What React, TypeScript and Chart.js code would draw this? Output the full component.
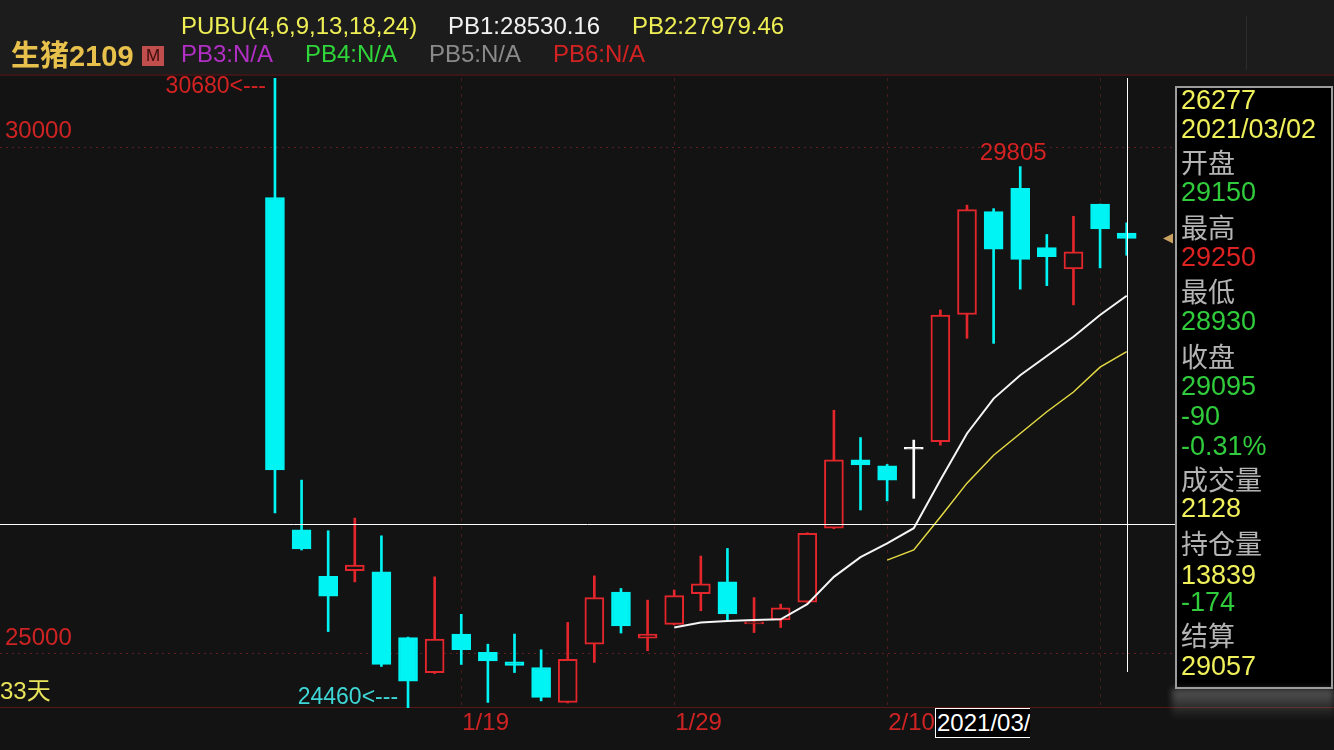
import React, { useEffect, useRef } from 'react';
import { Chart, registerables } from 'chart.js';

Chart.register(...registerables);

// ---- data ----
const dates = ['1/8', '1/11', '1/12', '1/13', '1/14', '1/15', '1/18', '1/19', '1/20', '1/21', '1/22', '1/25', '1/26', '1/27', '1/28', '1/29', '2/1', '2/2', '2/3', '2/4', '2/5', '2/8', '2/9', '2/10', '2/18', '2/19', '2/22', '2/23', '2/24', '2/25', '2/26', '3/1', '3/2'];
const opens = [29500, 26220, 25760, 25815, 25805, 25155, 24810, 25190, 25010, 24915, 24860, 24515, 25090, 25605, 25150, 25285, 25590, 25705, 25290, 25330, 25505, 26235, 26910, 26850, 27015, 27090, 28345, 29360, 29590, 29005, 28795, 29435, 29150];
const highs = [30680, 26710, 26210, 26335, 26160, 25160, 25755, 25385, 25090, 25190, 25035, 25305, 25765, 25640, 25525, 25625, 25960, 26035, 25550, 25485, 26190, 27400, 27130, 26865, 27105, 28390, 29425, 29390, 29805, 29135, 29315, 29435, 29250];
const lows = [26385, 26020, 25215, 25705, 24870, 24460, 24800, 24890, 24515, 24810, 24530, 24510, 24910, 25200, 25025, 25280, 25420, 25330, 25205, 25255, 25500, 26230, 26415, 26505, 26530, 27055, 28110, 28060, 28595, 28630, 28440, 28805, 28930];
const closes = [26810, 26030, 25565, 25870, 24890, 24725, 25140, 25035, 24925, 24880, 24565, 24940, 25550, 25270, 25190, 25570, 25685, 25390, 25310, 25450, 26185, 26910, 26860, 26710, 27015, 28340, 29380, 28990, 28890, 28915, 28965, 29190, 29095];

const pb1Start = 15; // PUBU(4) line starts at the 16th bar
const pb1 = [25255, 25305, 25320, 25330, 25335, 25485, 25755, 25950, 26085, 26235, 26710, 27170, 27515, 27745, 27935, 28125, 28340, 28530.16];
const pb2Start = 23; // PUBU(6) line starts at the 24th bar
const pb2 = [25920, 26020, 26345, 26680, 26955, 27170, 27385, 27580, 27825, 27979.46];

const yGridValues = [30000, 25000];
const yTickLabels = ['30000', '25000'];
const gridDates = ['1/19', '1/29', '2/10', '3/1'];
const axisDates = ['1/19', '1/29', '2/10'];
const crossValue = 26277;
const crossDate = '2021/03/02';
const maxMark = 30680;
const minMark = 24460;
const localHigh = 29805;

const headerRow1 = [
  { text: 'PUBU(4,6,9,13,18,24)', color: '#eeee55', left: 181 },
  { text: 'PB1:28530.16', color: '#f2f2f2', left: 448 },
  { text: 'PB2:27979.46', color: '#eeee55', left: 632 },
];
const headerRow2 = [
  { text: 'PB3:N/A', color: '#b12fc4', left: 181 },
  { text: 'PB4:N/A', color: '#2fd63a', left: 305 },
  { text: 'PB5:N/A', color: '#8a8a8a', left: 429 },
  { text: 'PB6:N/A', color: '#d42222', left: 553 },
];

const YEL = '#f0f05a';
const GRY = '#b4b4b4';
const GRN = '#30cc3c';
const RDT = '#dd2222';
const panelRows = [
  { text: '26277', color: YEL, y: 100 },
  { text: '2021/03/02', color: YEL, y: 129 },
  { text: '开盘', color: GRY, y: 164 },
  { text: '29150', color: GRN, y: 192 },
  { text: '最高', color: GRY, y: 229 },
  { text: '29250', color: RDT, y: 257 },
  { text: '最低', color: GRY, y: 293 },
  { text: '28930', color: GRN, y: 321 },
  { text: '收盘', color: GRY, y: 358 },
  { text: '29095', color: GRN, y: 386 },
  { text: '-90', color: GRN, y: 416 },
  { text: '-0.31%', color: GRN, y: 446 },
  { text: '成交量', color: GRY, y: 481 },
  { text: '2128', color: YEL, y: 508 },
  { text: '持仓量', color: GRY, y: 545 },
  { text: '13839', color: YEL, y: 575 },
  { text: '-174', color: GRN, y: 602 },
  { text: '结算', color: GRY, y: 637 },
  { text: '29057', color: YEL, y: 666 },
];

// ---- style ----
const RED = '#e2262b';
const CYAN = '#00f4f4';
const WHITE = '#ffffff';
const BG = '#131313';
const FONT = '"Liberation Sans", Arial, "Noto Sans CJK SC", sans-serif';

const candleColor = (i: number) => (closes[i] > opens[i] ? RED : closes[i] < opens[i] ? CYAN : WHITE);
const bodyFill = (i: number) => (closes[i] > opens[i] ? BG : candleColor(i));

const overlayPlugin = {
  id: 'overlay',
  beforeDatasetsDraw(chart: any) {
    const { ctx, chartArea: a, scales } = chart;
    const x = scales.x;
    const y = scales.y;
    const line = (x1: number, y1: number, x2: number, y2: number) => {
      ctx.beginPath();
      ctx.moveTo(x1, y1);
      ctx.lineTo(x2, y2);
      ctx.stroke();
    };
    ctx.save();
    ctx.lineWidth = 1;
    ctx.strokeStyle = '#5e1f1f';
    ctx.setLineDash([2, 4]);
    yGridValues.forEach((v) => {
      const py = Math.round(y.getPixelForValue(v)) + 0.5;
      line(a.left, py, a.right, py);
    });
    ctx.strokeStyle = '#4a1b1b';
    ctx.setLineDash([3, 5]);
    gridDates.forEach((d) => {
      const px = Math.round(x.getPixelForValue(dates.indexOf(d))) + 0.5;
      line(px, a.top, px, a.bottom);
    });
    ctx.setLineDash([]);
    ctx.strokeStyle = '#561717';
    line(0, a.bottom - 0.5, chart.width, a.bottom - 0.5);

    ctx.font = `24px ${FONT}`;
    ctx.textBaseline = 'middle';
    ctx.textAlign = 'left';
    ctx.fillStyle = '#cf2323';
    yGridValues.forEach((v, i) => ctx.fillText(yTickLabels[i], 5, y.getPixelForValue(v) - 15));
    axisDates.forEach((d) => ctx.fillText(d, x.getPixelForValue(dates.indexOf(d)) + 1, 723));
    ctx.fillStyle = '#eae45a';
    ctx.fillText(`${dates.length}天`, 0, 692);
    ctx.restore();
  },
  afterDatasetsDraw(chart: any) {
    const { ctx, chartArea: a, scales } = chart;
    const x = scales.x;
    const y = scales.y;
    ctx.save();
    // crosshair
    ctx.strokeStyle = '#ffffff';
    ctx.lineWidth = 1;
    const cy = Math.round(y.getPixelForValue(crossValue)) + 0.5;
    ctx.beginPath();
    ctx.moveTo(a.left, cy);
    ctx.lineTo(a.right, cy);
    ctx.stroke();
    const last = dates.length - 1;
    const cx = Math.round(x.getPixelForValue(last)) + 0.5;
    ctx.beginPath();
    ctx.moveTo(cx, a.top);
    ctx.lineTo(cx, 672);
    ctx.stroke();

    // extreme labels
    ctx.font = `23px ${FONT}`;
    ctx.textBaseline = 'middle';
    const iMax = highs.indexOf(maxMark);
    const iMin = lows.indexOf(minMark);
    const iLoc = highs.indexOf(localHigh);
    ctx.fillStyle = '#d42222';
    ctx.textAlign = 'right';
    ctx.fillText(`${maxMark}<---`, x.getPixelForValue(iMax) - 9, y.getPixelForValue(maxMark) + 9);
    ctx.fillStyle = '#3fd6d6';
    ctx.fillText(`${minMark}<---`, x.getPixelForValue(iMin) - 10, y.getPixelForValue(minMark) - 10);
    ctx.fillStyle = '#d42222';
    ctx.textAlign = 'center';
    ctx.font = `24px ${FONT}`;
    ctx.fillText(`${localHigh}`, x.getPixelForValue(iLoc) - 7, y.getPixelForValue(localHigh) - 13);

    // last-price marker
    const ty = y.getPixelForValue(closes[last]);
    ctx.fillStyle = '#c9a262';
    ctx.beginPath();
    ctx.moveTo(a.right - 12, ty);
    ctx.lineTo(a.right - 2, ty - 5);
    ctx.lineTo(a.right - 2, ty + 5);
    ctx.closePath();
    ctx.fill();
    ctx.restore();
  },
};

export default function App() {
  const ref = useRef<HTMLCanvasElement | null>(null);

  useEffect(() => {
    if (!ref.current) return;
    const idx = dates.map((_, i) => i);
    const chart = new Chart(ref.current, {
      type: 'bar',
      data: {
        datasets: [
          {
            type: 'line',
            label: 'PB1',
            data: pb1.map((v, k) => ({ x: pb1Start + k, y: v })),
            borderColor: '#f5f5f5',
            borderWidth: 2,
            pointRadius: 0,
            tension: 0,
            order: 0,
          } as any,
          {
            type: 'line',
            label: 'PB2',
            data: pb2.map((v, k) => ({ x: pb2Start + k, y: v })),
            borderColor: '#e4da44',
            borderWidth: 1.5,
            pointRadius: 0,
            tension: 0,
            order: 0,
          } as any,
          {
            type: 'bar',
            label: 'body',
            data: idx.map((i) => ({ x: i, y: [opens[i], closes[i]] })),
            backgroundColor: idx.map(bodyFill),
            borderColor: idx.map(candleColor),
            borderWidth: 2,
            borderSkipped: false,
            barThickness: 19,
            minBarLength: 2,
            grouped: false,
            order: 1,
          } as any,
          {
            type: 'bar',
            label: 'wick',
            data: idx.map((i) => ({ x: i, y: [lows[i], highs[i]] })),
            backgroundColor: idx.map(candleColor),
            borderWidth: 0,
            barThickness: 2,
            grouped: false,
            order: 2,
          } as any,
        ],
      },
      options: {
        responsive: false,
        animation: false,
        events: [],
        layout: { padding: { left: 0, right: 159, top: 78, bottom: 42 } },
        plugins: { legend: { display: false }, tooltip: { enabled: false } },
        scales: {
          x: { type: 'linear', display: false, offset: false, min: -10.33, max: 33.815, ticks: { includeBounds: false } },
          y: { type: 'linear', display: false, min: 24460, max: 30680, ticks: { includeBounds: false } },
        },
      } as any,
      plugins: [overlayPlugin],
    });
    return () => chart.destroy();
  }, []);

  const txt = (extra: React.CSSProperties): React.CSSProperties => ({
    position: 'absolute',
    whiteSpace: 'nowrap',
    fontFamily: FONT,
    ...extra,
  });

  return (
    <div style={{ position: 'fixed', left: 0, top: 0, width: 1334, height: 750, background: BG, overflow: 'hidden' }}>
      <div style={{ position: 'absolute', left: 0, top: 0, width: 1334, height: 74, background: '#1c1c1c', borderBottom: '2px solid #3c1616' }} />
      <div style={{ position: 'absolute', left: 1246, top: 16, width: 1, height: 54, background: '#2c2c2c' }} />
      <canvas ref={ref} width={1334} height={750} style={{ position: 'absolute', left: 0, top: 0, width: 1334, height: 750 }} />

      <div style={txt({ left: 11, top: 41, fontSize: 29, lineHeight: '30px', fontWeight: 'bold', color: '#e8c14c' })}>生猪2109</div>
      <div style={txt({ left: 142, top: 46, width: 22, height: 20, background: '#bf4e4c', color: '#3a0c0c', fontSize: 17, lineHeight: '20px', textAlign: 'center' })}>M</div>
      {headerRow1.map((h) => (
        <div key={h.text} style={txt({ left: h.left, top: 14, fontSize: 24, lineHeight: '24px', color: h.color })}>{h.text}</div>
      ))}
      {headerRow2.map((h) => (
        <div key={h.text} style={txt({ left: h.left, top: 42, fontSize: 24, lineHeight: '24px', color: h.color })}>{h.text}</div>
      ))}

      <div style={{ position: 'absolute', left: 1175, top: 86, width: 158, height: 603, background: '#000', border: '2px solid #9c9c9c', boxSizing: 'border-box' }} />
      {panelRows.map((r, i) => (
        <div key={i} style={txt({ left: 1181, top: r.y - 14, fontSize: 27, lineHeight: '28px', color: r.color })}>{r.text}</div>
      ))}
      <div style={{ position: 'absolute', left: 1172, top: 689, width: 162, height: 30, background: 'linear-gradient(rgba(170,170,170,0.45), rgba(40,40,40,0))', filter: 'blur(3px)' }} />

      <div style={txt({ left: 935, top: 708, width: 95, height: 30, background: '#000', border: '1px solid #fff', borderRight: 'none', boxSizing: 'border-box', overflow: 'hidden', color: '#fff', fontSize: 24, lineHeight: '28px', paddingLeft: 1 })}>{crossDate}</div>
    </div>
  );
}
